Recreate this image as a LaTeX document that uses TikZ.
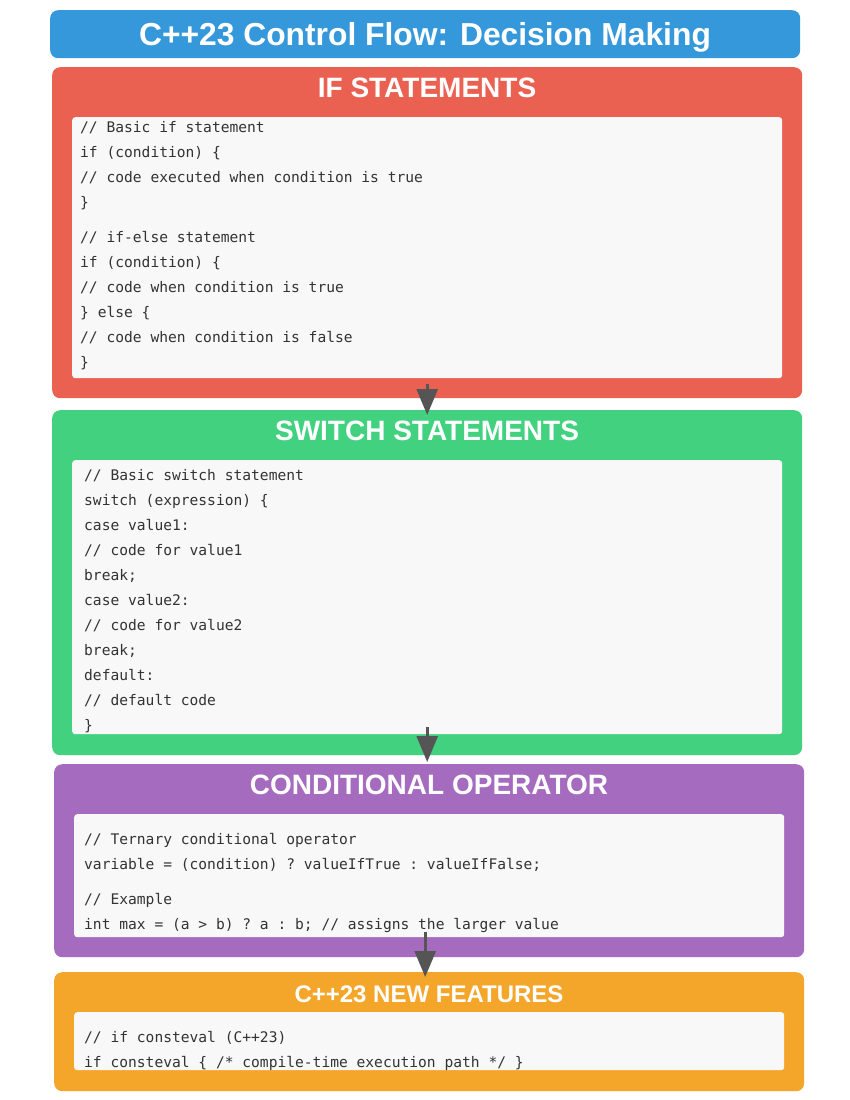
\documentclass[tikz,border=0pt]{standalone}
\usepackage{fontspec}
\setmainfont{Liberation Sans}
\setmonofont{DejaVu Sans Mono}
\usetikzlibrary{arrows.meta}

\definecolor{titleblue}{HTML}{3598DB}
\definecolor{ifred}{HTML}{EA6152}
\definecolor{swgreen}{HTML}{42D27F}
\definecolor{oppurple}{HTML}{A56BBF}
\definecolor{newgold}{HTML}{F4A62A}
\definecolor{panelgray}{HTML}{F8F8F8}
\definecolor{codeink}{HTML}{333333}
\definecolor{flowgray}{HTML}{555555}

\tikzset{
  x=1pt, y=-1pt,
  section/.style={rounded corners=8pt, inner sep=0pt, anchor=north west},
  panel/.style={fill=panelgray, rounded corners=3pt, inner sep=0pt, anchor=north west},
  heading/.style={anchor=base, inner sep=0pt, text=white, font=\bfseries\fontsize{28}{30}\selectfont},
  code/.style={anchor=base west, inner sep=0pt, text=codeink, font=\ttfamily\fontsize{14.6}{16}\selectfont},
  flow/.style={draw=flowgray, line width=3pt, -{Triangle[length=26pt,width=21pt]}},
}

\begin{document}
\begin{tikzpicture}
\useasboundingbox[fill=white] (0,0) rectangle (850,1100);

% title bar
\node[section, fill=titleblue, minimum width=750pt, minimum height=48pt] (title) at (50,10) {};
\node[heading, font=\bfseries\fontsize{31.8}{34}\selectfont] (titletext) at (425,45) {C++23 Control Flow: Decision Making};

% if statements
\node[section, fill=ifred, minimum width=750pt, minimum height=331pt] (ifbox) at (52,67) {};
\node[heading] (ifhead) at (427,97) {IF STATEMENTS};
\node[panel, minimum width=710pt, minimum height=261pt] (ifpanel) at (72,117) {};
\node[code] (if1) at (80,132) {// Basic if statement};
\node[code] (if2) at (80,157) {if (condition) \{};
\node[code] (if3) at (80,182) {// code executed when condition is true};
\node[code] (if4) at (80,207) {\}};
\node[code] (if5) at (80,242) {// if-else statement};
\node[code] (if6) at (80,267) {if (condition) \{};
\node[code] (if7) at (80,292) {// code when condition is true};
\node[code] (if8) at (80,317) {\} else \{};
\node[code] (if9) at (80,342) {// code when condition is false};
\node[code] (if10) at (80,367) {\}};

% switch statements
\node[section, fill=swgreen, minimum width=750pt, minimum height=345pt] (swbox) at (52,410) {};
\node[heading] (swhead) at (427,440) {SWITCH STATEMENTS};
\node[panel, minimum width=710pt, minimum height=274pt] (swpanel) at (72,460) {};
\node[code] (sw1) at (84,480) {// Basic switch statement};
\node[code] (sw2) at (84,505) {switch (expression) \{};
\node[code] (sw3) at (84,530) {case value1:};
\node[code] (sw4) at (84,555) {// code for value1};
\node[code] (sw5) at (84,580) {break;};
\node[code] (sw6) at (84,605) {case value2:};
\node[code] (sw7) at (84,630) {// code for value2};
\node[code] (sw8) at (84,655) {break;};
\node[code] (sw9) at (84,680) {default:};
\node[code] (sw10) at (84,705) {// default code};
\node[code] (sw11) at (84,730) {\}};

% conditional operator
\node[section, fill=oppurple, minimum width=750pt, minimum height=193pt] (opbox) at (54,764) {};
\node[heading] (ophead) at (429,794) {CONDITIONAL OPERATOR};
\node[panel, minimum width=710pt, minimum height=123pt] (oppanel) at (74,814) {};
\node[code] (op1) at (84,844) {// Ternary conditional operator};
\node[code] (op2) at (84,869) {variable = (condition) ? valueIfTrue : valueIfFalse;};
\node[code] (op3) at (84,904) {// Example};
\node[code] (op4) at (84,929) {int max = (a > b) ? a : b; // assigns the larger value};

% C++23 new features
\node[section, fill=newgold, minimum width=750pt, minimum height=119pt] (newbox) at (54,972) {};
\node[heading, font=\bfseries\fontsize{24}{26}\selectfont] (newhead) at (429,1002) {C++23 NEW FEATURES};
\node[panel, minimum width=710pt, minimum height=58pt] (newpanel) at (74,1012) {};
\node[code] (new1) at (84,1042) {// if consteval (C++23)};
\node[code] (new2) at (84,1067) {if consteval \{ /* compile-time execution path */ \}};

% flow between sections
\draw[flow] ([yshift=14pt]ifbox.south) -- ([yshift=-5pt]swbox.north);
\draw[flow] ([yshift=28pt]swbox.south) -- ([xshift=-2pt,yshift=2pt]opbox.north);
\draw[flow] ([xshift=-4pt,yshift=25pt]opbox.south) -- ([xshift=-4pt,yshift=-5pt]newbox.north);
\end{tikzpicture}
\end{document}
